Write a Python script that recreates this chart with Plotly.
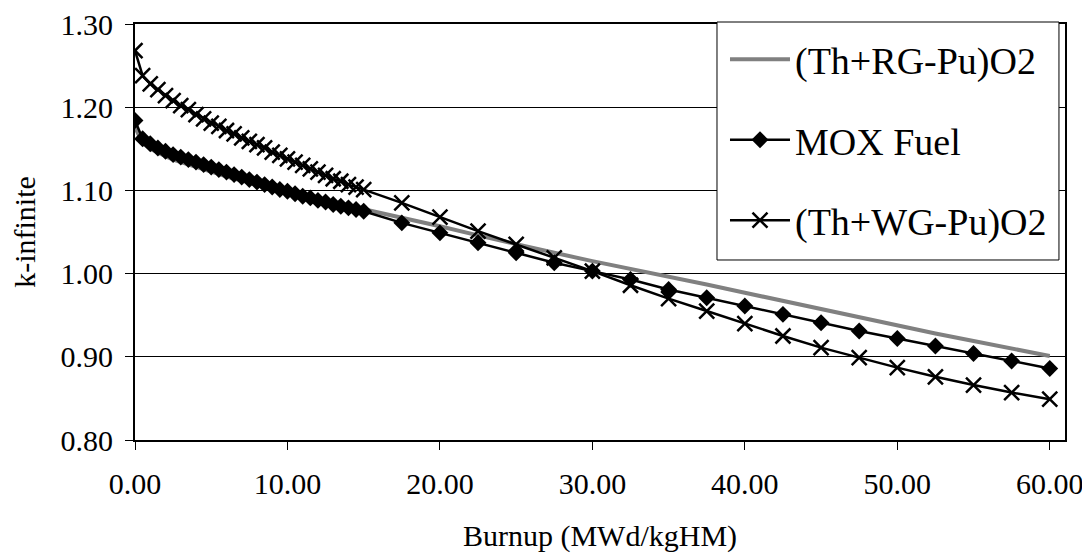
import plotly.graph_objects as go

# Burnup points (MWd/kgHM)
burnup_fine = [0.0, 0.5, 1.0, 1.5, 2.0, 2.5, 3.0, 3.5, 4.0, 4.5, 5.0, 5.5, 6.0, 6.5, 7.0, 7.5,
               8.0, 8.5, 9.0, 9.5, 10.0, 10.5, 11.0, 11.5, 12.0, 12.5, 13.0, 13.5, 14.0, 14.5, 15.0]
burnup_coarse = [17.5, 20.0, 22.5, 25.0, 27.5, 30.0, 32.5, 35.0, 37.5, 40.0, 42.5, 45.0,
                 47.5, 50.0, 52.5, 55.0, 57.5, 60.0]
burnup = burnup_fine + burnup_coarse

# k-infinite values
rg_pu = [1.176, 1.157, 1.150, 1.145, 1.141, 1.137, 1.134, 1.131, 1.128, 1.125, 1.122, 1.119,
         1.117, 1.114, 1.112, 1.109, 1.107, 1.104, 1.102, 1.100, 1.097, 1.095, 1.093, 1.091,
         1.089, 1.087, 1.085, 1.083, 1.081, 1.079, 1.077,
         1.067, 1.057, 1.046, 1.035, 1.025, 1.015, 1.006, 0.997, 0.987, 0.977, 0.967, 0.957,
         0.947, 0.937, 0.928, 0.919, 0.910, 0.901]
mox = [1.184, 1.162, 1.156, 1.151, 1.147, 1.143, 1.140, 1.137, 1.134, 1.131, 1.128, 1.125,
       1.122, 1.119, 1.116, 1.113, 1.110, 1.107, 1.104, 1.101, 1.099, 1.096, 1.093, 1.091,
       1.088, 1.086, 1.083, 1.081, 1.079, 1.077, 1.075,
       1.061, 1.049, 1.037, 1.025, 1.013, 1.003, 0.993, 0.981, 0.971, 0.961, 0.951, 0.941,
       0.931, 0.922, 0.913, 0.904, 0.895, 0.886]
wg_pu = [1.268, 1.238, 1.228, 1.221, 1.214, 1.208, 1.202, 1.197, 1.191, 1.186, 1.181, 1.177,
         1.172, 1.168, 1.163, 1.159, 1.155, 1.151, 1.146, 1.142, 1.138, 1.134, 1.130, 1.126,
         1.122, 1.118, 1.114, 1.111, 1.107, 1.104, 1.101,
         1.085, 1.068, 1.051, 1.035, 1.019, 1.003, 0.986, 0.970, 0.955, 0.940, 0.925, 0.911,
         0.899, 0.887, 0.876, 0.866, 0.857, 0.849]

series_names = ["(Th+RG-Pu)O2", "MOX Fuel", "(Th+WG-Pu)O2"]
x_ticks = [0, 10, 20, 30, 40, 50, 60]
y_ticks = [0.80, 0.90, 1.00, 1.10, 1.20, 1.30]

FONT = "Liberation Serif"

fig = go.Figure()
fig.add_trace(go.Scatter(x=burnup, y=rg_pu, name=series_names[0], mode="lines",
                         line=dict(color="#808080", width=4), legendgroup="a"))
fig.add_trace(go.Scatter(x=burnup, y=mox, name=series_names[1], mode="lines+markers",
                         line=dict(color="black", width=2.5),
                         marker=dict(symbol="diamond", size=13, color="black"),
                         legendgroup="b"))
fig.add_trace(go.Scatter(x=burnup, y=wg_pu, name=series_names[2], mode="lines+markers",
                         line=dict(color="black", width=2.5),
                         marker=dict(symbol="x-thin", size=15, color="black",
                                     line=dict(color="black", width=2.5)),
                         legendgroup="c"))

# legend frame (drawn as a shape so the padding matches the reference)
fig.add_shape(type="rect", xref="x domain", yref="y domain",
              x0=0.6258, x1=0.9935, y0=0.4327, y1=1.0048,
              line=dict(color="black", width=1), fillcolor="white", layer="above")

fig.update_layout(
    width=1090, height=560,
    margin=dict(l=127, r=33, t=16, b=128, autoexpand=False),
    paper_bgcolor="white", plot_bgcolor="white",
    font=dict(family=FONT, size=30, color="black"),
    showlegend=True,
    legend=dict(
        x=0.6344, y=0.990, xanchor="left", yanchor="top",
        bgcolor="rgba(0,0,0,0)", borderwidth=0,
        font=dict(family=FONT, size=38, color="black"),
        tracegroupgap=28, itemwidth=60,
    ),
    xaxis=dict(
        range=[0, 61], tickvals=x_ticks, tickformat=".2f",
        showgrid=False, zeroline=False,
        showline=True, linecolor="black", linewidth=2, mirror=True,
        ticks="outside", ticklen=8, tickcolor="black",
        ticklabelstandoff=8, ticklabeloverflow="allow", automargin=False,
        tickfont=dict(family=FONT, size=30),
        title=dict(text="Burnup (MWd/kgHM)", font=dict(family=FONT, size=30), standoff=26),
    ),
    yaxis=dict(
        range=[0.80, 1.30], tickvals=y_ticks, tickformat=".2f",
        showgrid=True, gridcolor="black", gridwidth=1, zeroline=False,
        showline=True, linecolor="black", linewidth=2, mirror=True,
        ticks="outside", ticklen=8, tickcolor="black",
        ticklabelstandoff=6, ticklabeloverflow="allow", automargin=False,
        tickfont=dict(family=FONT, size=30),
        title=dict(text="k-infinite", font=dict(family=FONT, size=30), standoff=16),
    ),
)

fig.write_html("out.html")
